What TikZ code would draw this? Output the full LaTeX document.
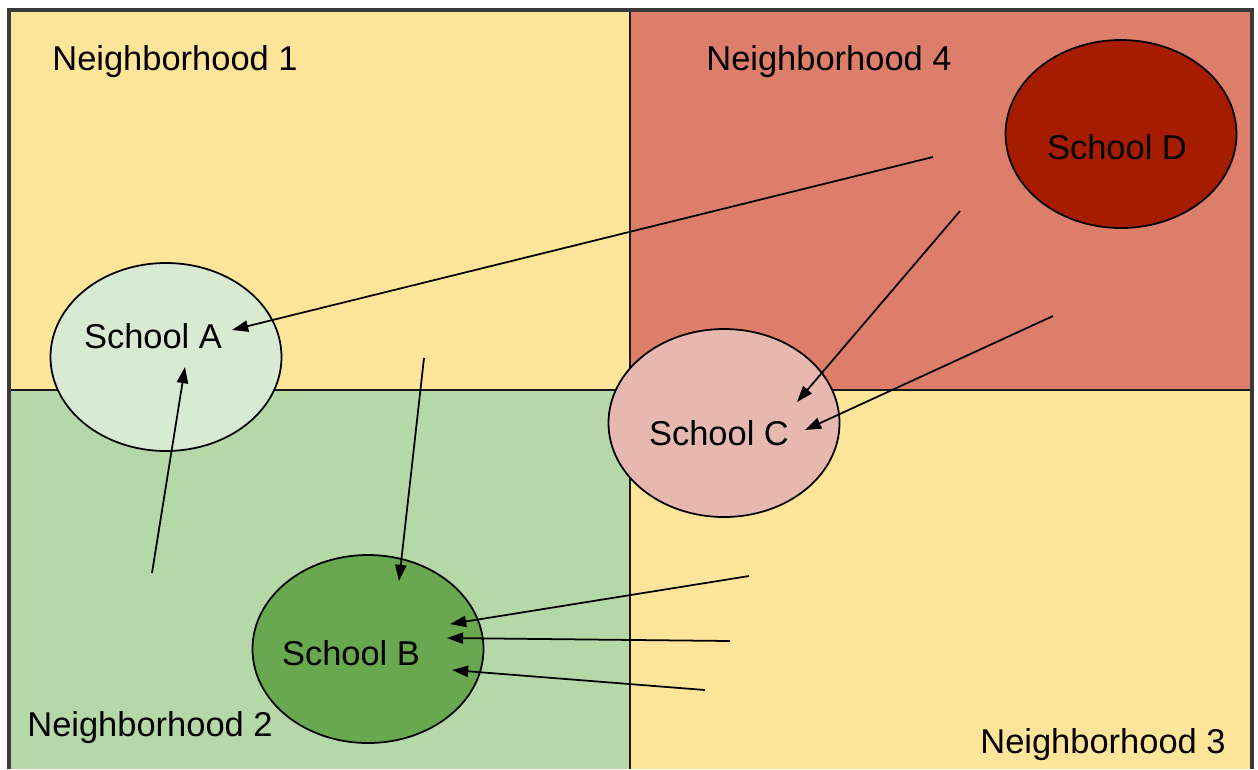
\documentclass[tikz,border=0pt]{standalone}
\usepackage{fontspec}
\setmainfont{Liberation Sans}
\usetikzlibrary{arrows.meta,shapes.geometric}
\definecolor{nyellow}{HTML}{FFE599}
\definecolor{nred}{HTML}{DD7E6B}
\definecolor{ngreen}{HTML}{B6D7A8}
\definecolor{sA}{HTML}{D9EAD3}
\definecolor{sB}{HTML}{6AA84F}
\definecolor{sC}{HTML}{E6B8AF}
\definecolor{sD}{HTML}{A61C00}
\definecolor{frame}{HTML}{3A3A3A}
\newlength{\pxu}
\setlength{\pxu}{0.01cm}
\tikzset{
  school/.style={ellipse, draw=black, line width=0.5pt, minimum width=231\pxu, minimum height=188\pxu, inner sep=0pt},
  lbl/.style={font=\fontsize{9.8}{12}\selectfont, text=black, inner sep=0pt},
  flow/.style={line width=0.5pt, -{Triangle[length=4.6pt,width=3.2pt]}},
}
\begin{document}
\begin{tikzpicture}[x=0.01cm,y=-0.01cm]
\useasboundingbox (0,0) rectangle (1258,769);
% quadrants
\fill[nyellow] (9,10) rectangle (630,390);
\fill[nred] (630,10) rectangle (1252,390);
\fill[ngreen] (9,390) rectangle (630,769);
\fill[nyellow] (630,390) rectangle (1252,769);
% dividers
\draw[line width=0.7pt, black!90] (630,10) -- (630,769);
\draw[line width=0.7pt, black!90] (9,390) -- (1252,390);
% frame
\draw[line width=1pt, frame] (9,769) -- (9,10) -- (1252,10) -- (1252,769);
% schools
\node[school, fill=sA] (A) at (166,357) {};
\node[school, fill=sB] (B) at (368,649) {};
\node[school, fill=sC] (C) at (724,423) {};
\node[school, fill=sD] (D) at (1121,134) {};
% labels
\node[lbl] (tA) at (153,336) {School A};
\node[lbl] (tB) at (351,653) {School B};
\node[lbl] (tC) at (719,433) {School C};
\node[lbl] (tD) at (1117,147) {School D};
\node[lbl] (n1) at (175,62) {Neighborhood 1};
\node[lbl] (n4) at (829,62) {Neighborhood 4};
\node[lbl] (n2) at (150,728) {Neighborhood 2};
\node[lbl] (n3) at (1103,745) {Neighborhood 3};
% arrow ends
\coordinate (s1) at (933,157); \coordinate (e1) at (232,330);
\coordinate (s2) at (152,573); \coordinate (e2) at (185,367);
\coordinate (s3) at (424,358); \coordinate (e3) at (399,581);
\coordinate (s4) at (960,211); \coordinate (e4) at (797,402);
\coordinate (s5) at (1053,316); \coordinate (e5) at (805,430);
\coordinate (s6) at (749,576); \coordinate (e6) at (450,624);
\coordinate (s7) at (730,641); \coordinate (e7) at (447,638);
\coordinate (s8) at (705,690); \coordinate (e8) at (452,670);
\foreach \i in {1,...,8} {\draw[flow] (s\i) -- (e\i);}
\end{tikzpicture}
\end{document}
